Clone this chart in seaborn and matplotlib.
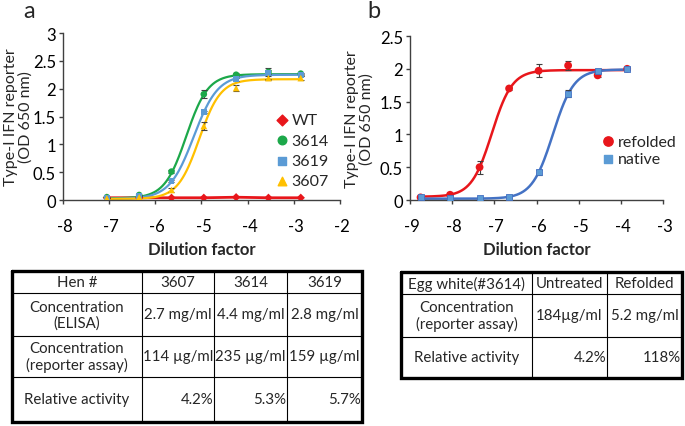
import numpy as np
import pandas as pd
import matplotlib
matplotlib.use("Agg")
import matplotlib.pyplot as plt
import matplotlib.transforms as mtransforms
import seaborn as sns

sns.set_theme(style="white")
plt.rcParams['font.family'] = ['Lato', 'DejaVu Sans']

# ---------------- Panel a data ----------------
a_x = [-7.05, -6.35, -5.65, -4.95, -4.25, -3.55, -2.85]
a_series = ["WT", "3614", "3619", "3607"]
a_WT = [0.04, 0.04, 0.04, 0.04, 0.05, 0.04, 0.04]
a_3614 = [0.05, 0.09, 0.51, 1.90, 2.25, 2.30, 2.27]
a_3619 = [0.03, 0.07, 0.34, 1.58, 2.17, 2.28, 2.25]
a_3607 = [0.03, 0.05, 0.18, 1.33, 2.01, 2.19, 2.19]
a_err_3614 = [0.00, 0.00, 0.02, 0.07, 0.03, 0.04, 0.02]
a_err_3619 = [0.00, 0.00, 0.02, 0.02, 0.03, 0.10, 0.02]
a_err_3607 = [0.00, 0.00, 0.03, 0.08, 0.05, 0.03, 0.03]
# 4-parameter logistic fit parameters (bottom, top, logEC50, hill)
a_fit_3614 = [0.03, 2.26, -5.33, 1.85]
a_fit_3619 = [0.02, 2.25, -5.17, 1.66]
a_fit_3607 = [0.02, 2.17, -5.05, 1.87]

# ---------------- Panel b data ----------------
b_x = [-8.75, -8.05, -7.35, -6.65, -5.95, -5.25, -4.55, -3.85]
b_series = ["refolded", "native"]
b_refolded = [0.04, 0.08, 0.50, 1.70, 1.97, 2.05, 1.90, 2.00]
b_native = [0.04, 0.03, 0.03, 0.05, 0.42, 1.62, 1.96, 2.00]
b_err_refolded = [0.00, 0.00, 0.10, 0.02, 0.10, 0.07, 0.03, 0.02]
b_err_native = [0.00, 0.00, 0.00, 0.02, 0.04, 0.05, 0.02, 0.02]
b_fit_refolded = [0.05, 1.98, -7.06, 1.80]
b_fit_native = [0.02, 1.99, -5.61, 1.75]

# ---------------- Table data ----------------
ta_rows = [
    ["Hen #", "3607", "3614", "3619"],
    ["Concentration\n(ELISA)", "2.7 mg/ml", "4.4 mg/ml", "2.8 mg/ml"],
    ["Concentration\n(reporter assay)", "114 \u00b5g/ml", "235 \u00b5g/ml", "159 \u00b5g/ml"],
    ["Relative activity", "4.2%", "5.3%", "5.7%"],
]
tb_rows = [
    ["Egg white(#3614)", "Untreated", "Refolded"],
    ["Concentration\n(reporter assay)", "184\u00b5g/ml", "5.2 mg/ml"],
    ["Relative activity", "4.2%", "118%"],
]

# colours
RED = "#e8161b"
GREEN = "#1ca84a"
BLUE = "#5b9bd5"
YELLOW = "#ffc000"
BLUE_B = "#4472c4"
AXC = "#404040"

W, H = 685, 427
fig = plt.figure(figsize=(W / 100, H / 100), dpi=100)


def px_axes(l, t, r, b):
    return fig.add_axes([l / W, 1 - b / H, (r - l) / W, (b - t) / H])


def logistic(x, p):
    bot, top, c, h = p
    return bot + (top - bot) / (1 + 10 ** ((c - x) * h))


def style_axis(ax, xlim, ylim, yticks, ytl, ylab_x):
    ax.set_xlim(*xlim)
    ax.set_ylim(*ylim)
    ax.set_xticks(range(int(xlim[0]), int(xlim[1]) + 1))
    ax.set_xticklabels([str(v) for v in range(int(xlim[0]), int(xlim[1]) + 1)])
    ax.set_yticks(yticks)
    ax.set_yticklabels(ytl)
    for s in ["top", "right"]:
        ax.spines[s].set_visible(False)
    for s in ["left", "bottom"]:
        ax.spines[s].set_color(AXC)
        ax.spines[s].set_linewidth(1.0)
    ax.tick_params(axis="both", which="both", direction="out", length=3,
                   width=1, color=AXC, labelsize=12, labelcolor="black",
                   left=True, bottom=True)
    ax.tick_params(axis="x", pad=10)
    ax.tick_params(axis="y", pad=2)
    off = mtransforms.ScaledTranslation(2 / 100, 0, fig.dpi_scale_trans)
    for lab in ax.get_xticklabels():
        lab.set_transform(lab.get_transform() + off)
    ax.set_xlabel("Dilution factor", fontsize=12, fontweight="bold", labelpad=5)
    ax.set_ylabel("Type-I IFN reporter\n(OD 650 nm)", fontsize=11.5,
                  linespacing=1.1)
    ax.yaxis.set_label_coords(ylab_x, 0.5)
    ax.set_facecolor("white")
    ax.grid(False)


# ---------------- Panel a ----------------
axa = px_axes(63, 34, 340, 201)
specs_a = [
    ("WT", a_WT, None, None, RED, "D", 30),
    ("3614", a_3614, a_err_3614, a_fit_3614, GREEN, "o", 38),
    ("3619", a_3619, a_err_3619, a_fit_3619, BLUE, "s", 30),
    ("3607", a_3607, a_err_3607, a_fit_3607, YELLOW, "^", 38),
]
for name, ys, err, fit, col, mk, sz in specs_a:
    if fit is None:
        sns.lineplot(x=a_x, y=ys, ax=axa, color=col, lw=2.0, legend=False)
    else:
        xf = np.linspace(a_x[0], a_x[-1], 200)
        sns.lineplot(x=xf, y=logistic(xf, fit), ax=axa, color=col, lw=1.6,
                     legend=False)
        axa.errorbar(a_x, ys, yerr=err, fmt="none", ecolor="#404040",
                     elinewidth=0.8, capsize=2, capthick=0.8, zorder=3)
for name, ys, err, fit, col, mk, sz in specs_a:
    sns.scatterplot(x=a_x, y=ys, ax=axa, color=col, marker=mk, s=sz * 0.6,
                    edgecolor="none", zorder=4, legend=False)
style_axis(axa, (-8, -2), (0, 3), [0, 0.5, 1, 1.5, 2, 2.5, 3],
           ["0", "0.5", "1", "1.5", "2", "2.5", "3"], (33 - 63) / 277)
# legend a
for i, (name, ys, err, fit, col, mk, sz) in enumerate(specs_a):
    axa.scatter([], [], color=col, marker=mk, s=sz, label=name)
axa.legend(loc="upper left", bbox_to_anchor=(0.755, 0.52), frameon=False,
           fontsize=11.5, handletextpad=0.0, labelspacing=0.38,
           borderaxespad=0, handlelength=1.2, borderpad=0)

# ---------------- Panel b ----------------
axb = px_axes(410, 37, 663, 201)
specs_b = [
    ("refolded", b_refolded, b_err_refolded, b_fit_refolded, RED, RED, "o", 45),
    ("native", b_native, b_err_native, b_fit_native, BLUE_B, BLUE, "s", 30),
]
for name, ys, err, fit, lc, mc, mk, sz in specs_b:
    xf = np.linspace(b_x[0], b_x[-1], 200)
    sns.lineplot(x=xf, y=logistic(xf, fit), ax=axb, color=lc, lw=1.8,
                 legend=False)
    axb.errorbar(b_x, ys, yerr=err, fmt="none", ecolor="#404040",
                 elinewidth=0.8, capsize=2, capthick=0.8, zorder=3)
for name, ys, err, fit, lc, mc, mk, sz in specs_b:
    sns.scatterplot(x=b_x, y=ys, ax=axb, color=mc, marker=mk, s=sz * 0.7,
                    edgecolor=lc if mk == "s" else "none", linewidth=0.6,
                    zorder=4, legend=False)
style_axis(axb, (-9, -3), (0, 2.5), [0, 0.5, 1, 1.5, 2, 2.5],
           ["0", "0.5", "1", "1.5", "2", "2.5"], (374 - 410) / 253)
for name, ys, err, fit, lc, mc, mk, sz in specs_b:
    axb.scatter([], [], color=mc, marker=mk, s=sz, label=name)
axb.legend(loc="upper left", bbox_to_anchor=(0.745, 0.40), frameon=False,
           fontsize=11.5, handletextpad=0.0, labelspacing=0.2,
           borderaxespad=0, handlelength=1.2, borderpad=0)

# panel letters
fig.text(23 / W, 1 - 12 / H, "a", fontsize=17, va="center", ha="left")
fig.text(367 / W, 1 - 12 / H, "b", fontsize=17, va="center", ha="left")

# ---------------- Tables ----------------
tax = fig.add_axes([0, 0, 1, 1])
tax.set_xlim(0, W)
tax.set_ylim(H, 0)
tax.axis("off")


def draw_table(rows, col_edges, row_edges, right_align_last=True):
    l, r = col_edges[0], col_edges[-1]
    t, b = row_edges[0], row_edges[-1]
    for x in col_edges[1:-1]:
        tax.plot([x, x], [t, b], color="black", lw=0.8)
    for y in row_edges[1:-1]:
        tax.plot([l, r], [y, y], color="black", lw=0.8)
    tax.plot([l, r, r, l, l], [t, t, b, b, t], color="black", lw=2.4,
             solid_joinstyle="miter")
    nrows = len(rows)
    for i, row in enumerate(rows):
        yc = (row_edges[i] + row_edges[i + 1]) / 2
        for j, txt in enumerate(row):
            x0, x1 = col_edges[j], col_edges[j + 1]
            if right_align_last and i == nrows - 1 and j > 0:
                tax.text(x1 - 1, yc, txt, ha="right", va="center",
                         fontsize=10.8, linespacing=1.1)
            else:
                tax.text((x0 + x1) / 2, yc, txt, ha="center", va="center",
                         fontsize=10.8, linespacing=1.1)


draw_table(ta_rows, [12, 142, 214, 287, 362], [272, 294, 337, 378, 423])
draw_table(tb_rows, [401, 532, 607, 682], [273, 295, 338, 379])

fig.savefig("out.png", dpi=100, facecolor="white")
